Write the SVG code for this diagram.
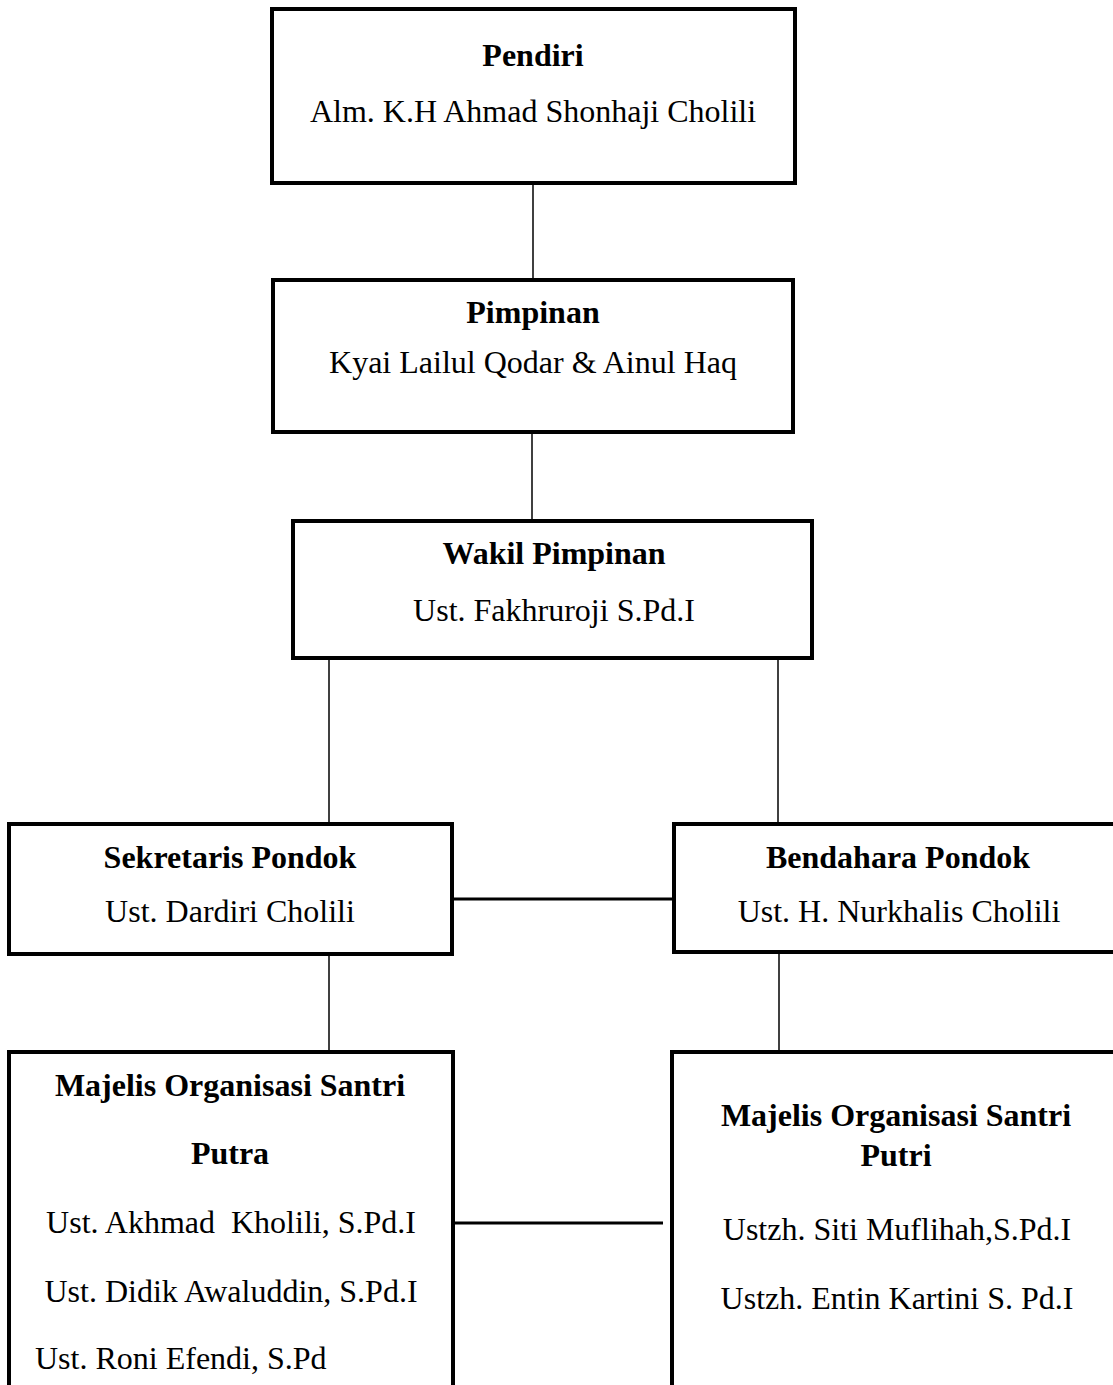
<svg xmlns="http://www.w3.org/2000/svg" width="1113" height="1385" viewBox="0 0 1113 1385">
<style>
.box{fill:#fff;stroke:#000;stroke-width:4;}
.t{font-family:"Liberation Serif","Times New Roman",serif;font-size:32px;fill:#000;text-anchor:middle;white-space:pre;}
.b{font-weight:bold;}
.l{text-anchor:start;}
.v{stroke:#000;stroke-width:1.5;fill:none;}
.h{stroke:#000;stroke-width:3;fill:none;}
</style>
<rect width="1113" height="1385" fill="#fff"/>
<g id="connectors">
<line class="v" x1="533" y1="183" x2="533" y2="280"/>
<line class="v" x1="532" y1="432" x2="532" y2="521"/>
<line class="v" x1="329" y1="658" x2="329" y2="824"/>
<line class="v" x1="778" y1="658" x2="778" y2="824"/>
<line class="h" x1="452" y1="899" x2="674" y2="899"/>
<line class="v" x1="329" y1="954" x2="329" y2="1052"/>
<line class="v" x1="779" y1="952" x2="779" y2="1052"/>
<line class="h" x1="453" y1="1223" x2="663" y2="1223"/>
</g>
<g id="pendiri">
<rect class="box" x="272" y="9" width="523" height="174"/>
<text class="t b" x="533" y="66">Pendiri</text>
<text class="t" x="533" y="122">Alm. K.H Ahmad Shonhaji Cholili</text>
</g>
<g id="pimpinan">
<rect class="box" x="273" y="280" width="520" height="152"/>
<text class="t b" x="533" y="323">Pimpinan</text>
<text class="t" x="533" y="373">Kyai Lailul Qodar &amp; Ainul Haq</text>
</g>
<g id="wakil">
<rect class="box" x="293" y="521" width="519" height="137"/>
<text class="t b" x="554" y="564">Wakil Pimpinan</text>
<text class="t" x="554" y="621">Ust. Fakhruroji S.Pd.I</text>
</g>
<g id="sekretaris">
<rect class="box" x="9" y="824" width="443" height="130"/>
<text class="t b" x="230" y="868">Sekretaris Pondok</text>
<text class="t" x="230" y="922">Ust. Dardiri Cholili</text>
</g>
<g id="bendahara">
<rect class="box" x="674" y="824" width="460" height="128"/>
<text class="t b" x="898" y="868">Bendahara Pondok</text>
<text class="t" x="899" y="922">Ust. H. Nurkhalis Cholili</text>
</g>
<g id="majelis-putra">
<rect class="box" x="9" y="1052" width="444" height="360"/>
<text class="t b" x="230" y="1096">Majelis Organisasi Santri</text>
<text class="t b" x="230" y="1164">Putra</text>
<text class="t" x="231" y="1233">Ust. Akhmad  Kholili, S.Pd.I</text>
<text class="t" x="231" y="1302">Ust. Didik Awaluddin, S.Pd.I</text>
<text class="t l" x="35" y="1369">Ust. Roni Efendi, S.Pd</text>
</g>
<g id="majelis-putri">
<rect class="box" x="672" y="1052" width="460" height="360"/>
<text class="t b" x="896" y="1126">Majelis Organisasi Santri</text>
<text class="t b" x="896" y="1166">Putri</text>
<text class="t" x="897" y="1240">Ustzh. Siti Muflihah,S.Pd.I</text>
<text class="t" x="897" y="1309">Ustzh. Entin Kartini S. Pd.I</text>
</g>
</svg>
